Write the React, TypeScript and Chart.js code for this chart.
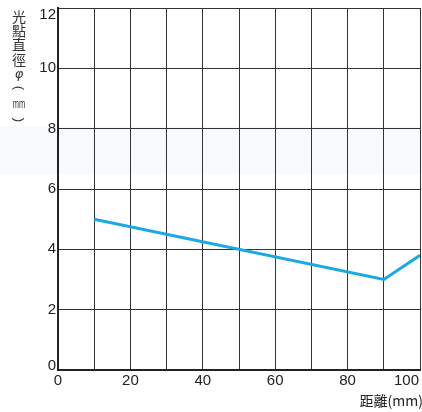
import { useEffect, useRef } from 'react';
import { Chart, registerables } from 'chart.js';

Chart.register(...registerables);

const distances = [10, 90, 100];
const spotDiameters = [5, 3, 3.8];
const xTickValues = [0, 20, 40, 60, 80, 100];
const xTickLabels = ['0', '20', '40', '60', '80', '100'];
const yTickValues = [0, 2, 4, 6, 8, 10, 12];
const yTickLabels = ['0', '2', '4', '6', '8', '10', '12'];
const yTitleChars = ['光', '點', '直', '徑', 'φ', '(', 'mm', ')'];
const xTitle = '距離(mm)';

const TICK_FONT = '15px "Liberation Sans", Arial, sans-serif';
const CJK_FONT = '14px "Noto Sans CJK TC", "Noto Sans CJK SC", sans-serif';

const labelPlugin = {
  id: 'labels',
  beforeDraw(chart: any) {
    const ctx = chart.ctx as CanvasRenderingContext2D;
    ctx.save();
    ctx.fillStyle = '#fff';
    ctx.fillRect(0, 0, chart.width, chart.height);
    ctx.fillStyle = '#f8f9fc';
    ctx.fillRect(0, 126, chart.width, 48);
    ctx.restore();
  },
  afterDraw(chart: any) {
    const ctx = chart.ctx as CanvasRenderingContext2D;
    const xs = chart.scales.x;
    const ys = chart.scales.y;
    const area = chart.chartArea;
    ctx.save();
    ctx.fillStyle = '#222';
    ctx.font = TICK_FONT;
    ctx.textBaseline = 'top';
    ctx.textAlign = 'left';
    xTickValues.forEach((v, i) => {
      const t = xTickLabels[i];
      const w = ctx.measureText(t).width;
      let left = xs.getPixelForValue(v) - w / 2;
      if (left + w > chart.width - 3) left = chart.width - 3 - w;
      ctx.fillText(t, left, area.bottom + 3);
    });
    ctx.textBaseline = 'middle';
    ctx.textAlign = 'right';
    yTickValues.forEach((v, i) => {
      let cy = ys.getPixelForValue(v);
      if (cy < area.top + 7) cy = area.top + 7;
      if (cy > area.bottom - 4) cy = area.bottom - 4;
      ctx.fillText(yTickLabels[i], area.left - 2, cy);
    });
    // x title
    ctx.font = CJK_FONT;
    ctx.fillStyle = '#222';
    ctx.textAlign = 'right';
    ctx.textBaseline = 'alphabetic';
    ctx.fillText(xTitle, chart.width + 1, 406);
    // y title, stacked vertically
    ctx.fillStyle = '#333';
    ctx.textAlign = 'center';
    const cx = 19;
    const centers = [16.5, 30.5, 45, 60, 75, 86, 104, 122];
    yTitleChars.forEach((c, i) => {
      const cy = centers[i];
      ctx.save();
      ctx.translate(cx, cy);
      if (c === 'mm') {
        ctx.font = '12px "Liberation Sans", Arial, sans-serif';
        ctx.textBaseline = 'alphabetic';
        ctx.scale(0.62, 1);
        ctx.fillText(c, 0, 4);
      } else if (c === '(' || c === ')') {
        ctx.font = '13px "Liberation Sans", Arial, sans-serif';
        ctx.textBaseline = 'middle';
        ctx.rotate(Math.PI / 2);
        ctx.fillText(c, c === '(' ? 2 : -2, 0);
      } else if (c === 'φ') {
        ctx.font = 'italic 13px "DejaVu Sans", sans-serif';
        ctx.textBaseline = 'middle';
        ctx.fillText(c, 0, 0);
      } else {
        ctx.font = CJK_FONT;
        ctx.textBaseline = 'middle';
        ctx.fillText(c, 0, 0);
      }
      ctx.restore();
    });
    ctx.restore();
  },
};

export default function App() {
  const ref = useRef<HTMLCanvasElement | null>(null);
  useEffect(() => {
    if (!ref.current) return;
    const chart = new Chart(ref.current, {
      type: 'line',
      data: {
        datasets: [
          {
            data: distances.map((d, i) => ({ x: d, y: spotDiameters[i] })),
            borderColor: '#1BA9E4',
            borderWidth: 3,
            pointRadius: 0,
            tension: 0,
            fill: false,
          },
        ],
      },
      options: {
        animation: false,
        responsive: false,
        maintainAspectRatio: false,
        layout: { padding: { top: 8, right: 2, left: 0, bottom: 0 } },
        plugins: { legend: { display: false }, tooltip: { enabled: false } },
        scales: {
          x: {
            type: 'linear',
            min: 0,
            max: 100,
            ticks: { stepSize: 10, display: false },
            grid: { color: '#333', lineWidth: 1, drawTicks: false },
            border: { color: '#222', width: 2 },
            afterFit: (s: any) => {
              s.height = 42;
              s.paddingLeft = 0;
              s.paddingRight = 0;
            },
          },
          y: {
            min: 0,
            max: 12,
            ticks: { stepSize: 2, display: false },
            grid: { color: '#333', lineWidth: 1, drawTicks: false },
            border: { color: '#222', width: 2 },
            afterFit: (s: any) => {
              s.width = 58;
              s.paddingTop = 0;
              s.paddingBottom = 0;
            },
          },
        },
      },
      plugins: [labelPlugin],
    });
    return () => chart.destroy();
  }, []);
  return (
    <div style={{ position: 'fixed', left: 0, top: 0, width: 422, height: 412, background: '#fff' }}>
      <canvas ref={ref} width={422} height={412} style={{ display: 'block' }} />
    </div>
  );
}
